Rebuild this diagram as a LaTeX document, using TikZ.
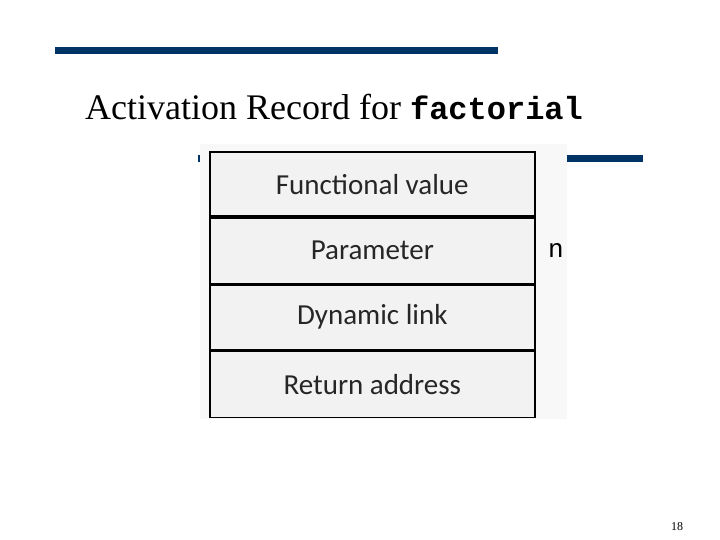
\documentclass[tikz,border=0pt]{standalone}
\usepackage{fontspec}
\setmainfont{Liberation Serif}
\setmonofont{Liberation Mono}
\newfontfamily\cellfont{Carlito}
\newfontfamily\mymono{Liberation Mono}
\definecolor{barblue}{HTML}{003366}
\definecolor{cellgray}{HTML}{F2F2F2}
\definecolor{imgbg}{HTML}{F8F8F8}
\begin{document}
\begin{tikzpicture}[x=1pt,y=-1pt,
  bar/.style={fill=barblue,draw=none},
  cell/.style={draw=black,line width=1.6pt,fill=cellgray,minimum width=325pt,inner sep=0pt,font=\cellfont\fontsize{29}{29}\selectfont,text=black!85}]
\useasboundingbox (0,0) rectangle (720,540);
\fill[white] (0,0) rectangle (720,540);
\fill[bar] (55,47) rectangle (498,54);
\fill[bar] (198,155) rectangle (643,162);
\node[anchor=base west,font=\fontsize{36}{36}\selectfont,inner sep=0pt] (title) at (85,120) {Activation Record for {\fontsize{32}{32}\selectfont\texttt{\bfseries factorial}}};
\fill[imgbg] (200,144) rectangle (567,419);
\node[cell,minimum height=64.5pt,anchor=north west] (fv) at (209,151) {Functional value};
\node[cell,minimum height=65.5pt,anchor=north] (par) at (fv.south) {Parameter};
\node[cell,minimum height=64.5pt,anchor=north] (dl) at (par.south) {Dynamic link};
\node[cell,minimum height=66.5pt,anchor=north] (ra) at (dl.south) {Return address};
\node[font=\mymono\fontsize{26}{26}\selectfont] (n) at (556,251) {n};
\node[font=\fontsize{12}{12}\selectfont] (pg) at (677,527) {18};
\end{tikzpicture}
\end{document}
